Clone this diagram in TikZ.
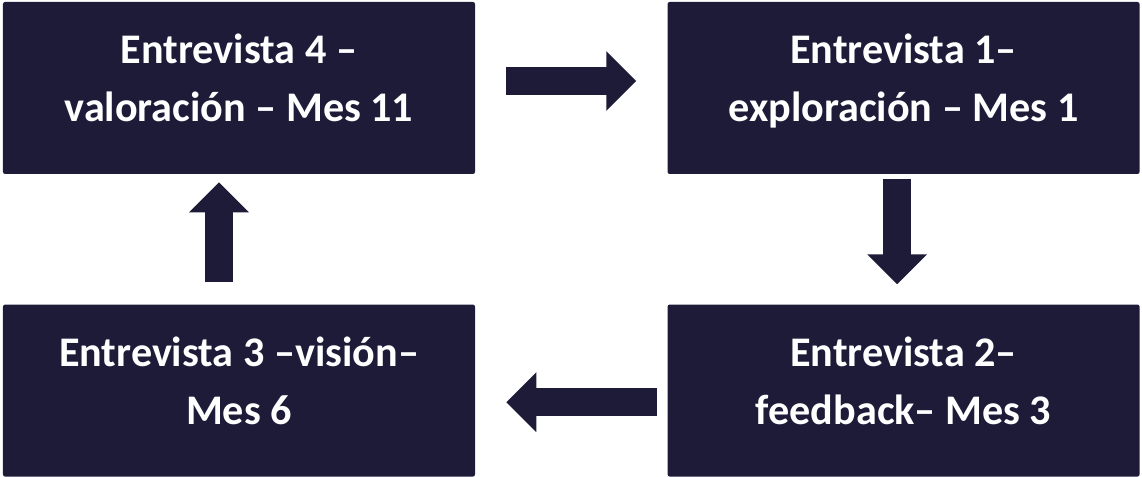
\documentclass[tikz,border=0pt]{standalone}
\usepackage{fontspec}
\setmainfont{Carlito}
\usepackage{xcolor}
\usetikzlibrary{arrows.meta, positioning}
\definecolor{NightNavy}{HTML}{1D1B38}

\begin{document}
\begin{tikzpicture}[
  node distance=3.25cm and 4.8cm,
  etapa/.style={rectangle, rounded corners=1.5pt, fill=NightNavy,
    minimum width=11.8cm, minimum height=4.3cm, align=center,
    text depth=0.5cm, text=white,
    font=\fontsize{30}{41}\selectfont\bfseries},
  blockarr/.style={-{Triangle[width=1.45cm, length=0.75cm]},
    line width=0.7cm, color=NightNavy}
]
\useasboundingbox (-5.975,2.2) rectangle (22.575,-9.725);

\node[etapa] (tl) {Entrevista 4 --\\valoración -- Mes 11};
\node[etapa, right=of tl] (tr) {Entrevista 1--\\exploración -- Mes 1};
\node[etapa, below=of tl] (bl) {Entrevista 3 --visión--\\Mes 6};
\node[etapa, right=of bl] (br) {Entrevista 2--\\feedback-- Mes 3};

% Arrows
\draw[blockarr] ([xshift=0.775cm, yshift=0.175cm]tl.east)
  -- ([xshift=-0.775cm, yshift=0.175cm]tr.west);
\draw[blockarr] ([xshift=-0.16cm, yshift=-0.125cm]tr.south)
  -- ([xshift=-0.16cm, yshift=0.5cm]br.north);
\draw[blockarr] ([xshift=-0.25cm, yshift=-0.29cm]br.west)
  -- ([xshift=0.775cm, yshift=-0.29cm]bl.east);
\draw[blockarr] ([xshift=-0.5cm, yshift=0.55cm]bl.north)
  -- ([xshift=-0.5cm, yshift=-0.2cm]tl.south);

\end{tikzpicture}
\end{document}
